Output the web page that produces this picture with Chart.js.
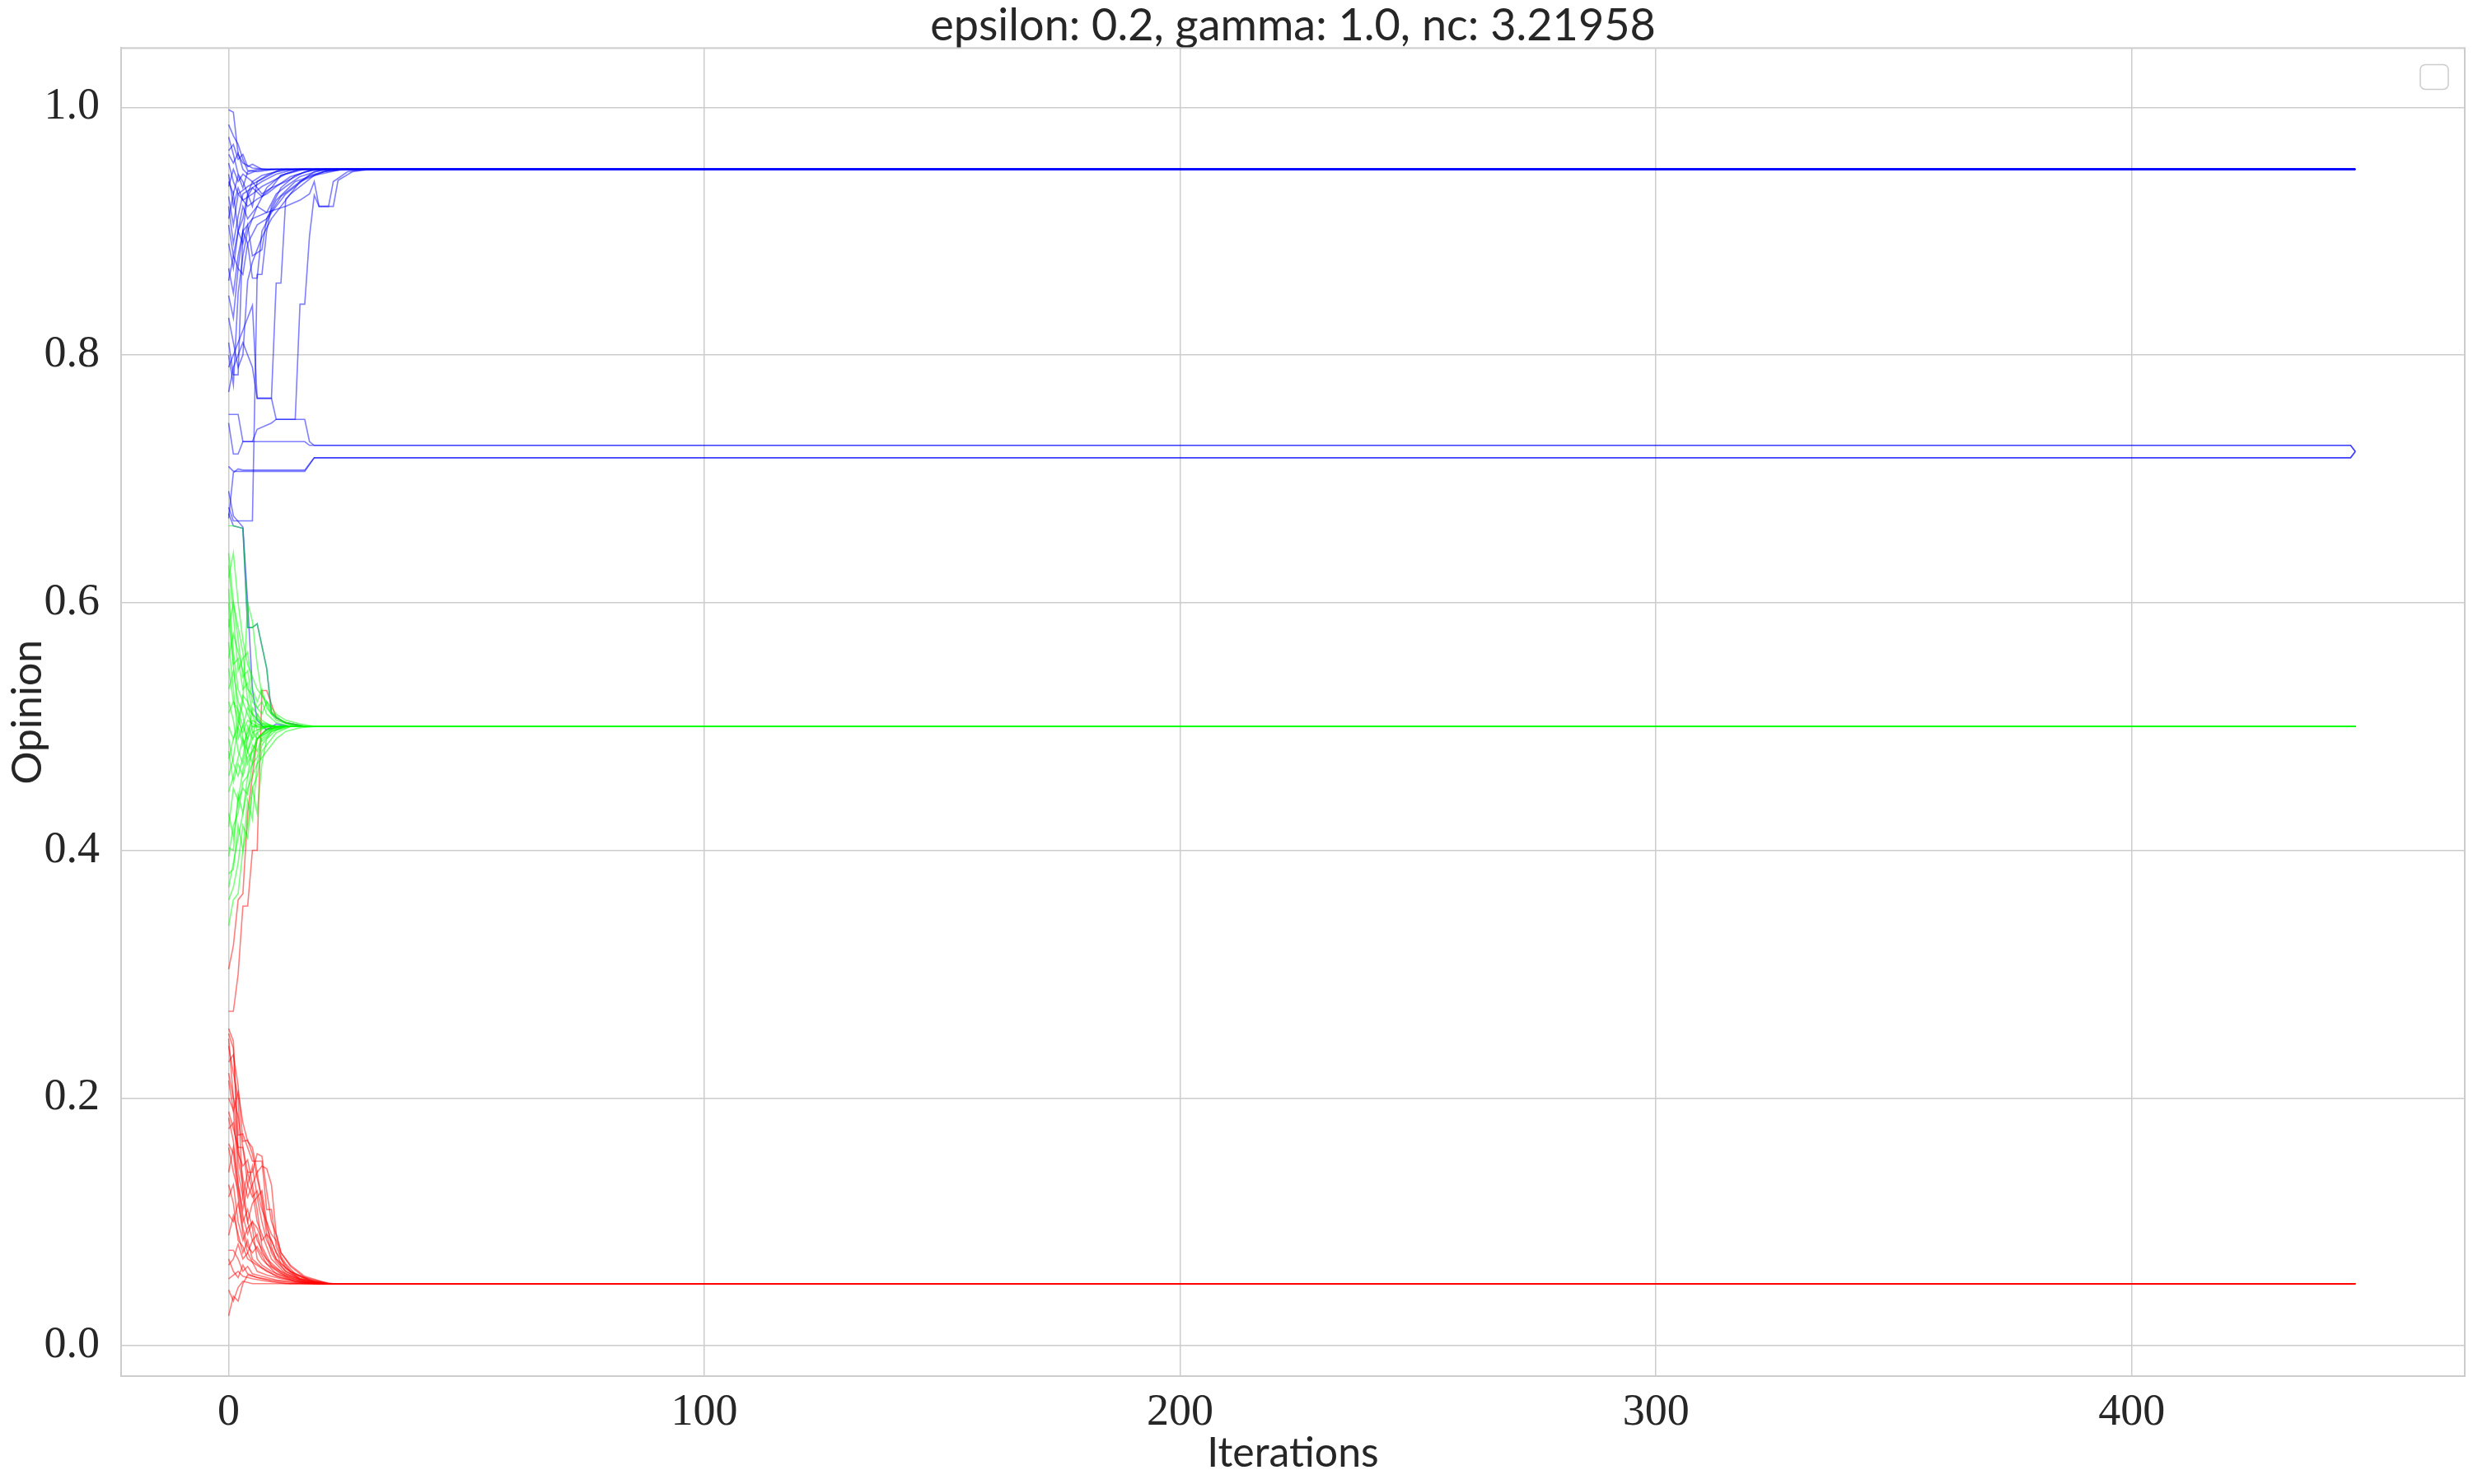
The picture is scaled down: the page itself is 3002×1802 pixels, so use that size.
<!DOCTYPE html>
<html>
<head>
<meta charset="utf-8">
<script src="https://cdn.jsdelivr.net/npm/chart.js@4.4.0/dist/chart.umd.min.js"></script>
<style>
  html, body { margin: 0; padding: 0; background: #ffffff; }
  canvas { display: block; }
</style>
</head>
<body>
<canvas id="opinion-chart" width="3002" height="1802"></canvas>
<script>
// opinion dynamics run: one line per agent, coloured by starting group

const titleText = 'epsilon: 0.2, gamma: 1.0, nc: 3.21958';
const xTicks = [0, 100, 200, 300, 400];
const yTicks = [0.0, 0.2, 0.4, 0.6, 0.8, 1.0];
const lastIter = 447;

// [iteration, opinion] pairs, each run stays flat after its last pair

// blue agents ending at the upper cluster (0.95)
const blueHigh = [
    [[0,0.998],[1,0.996],[2,0.962],[3,0.955],[5,0.951],[8,0.95]],
    [[0,0.986],[1,0.977],[2,0.97],[3,0.958],[4,0.949],[6,0.948],[10,0.95]],
    [[0,0.976],[1,0.962],[2,0.946],[3,0.94],[4,0.93],[5,0.94],[7,0.945],[12,0.95]],
    [[0,0.962],[1,0.955],[2,0.963],[3,0.95],[4,0.946],[6,0.949],[9,0.95]],
    [[0,0.955],[1,0.94],[2,0.93],[4,0.936],[6,0.94],[8,0.944],[10,0.948],[14,0.95]],
    [[0,0.946],[1,0.92],[2,0.935],[3,0.925],[5,0.93],[7,0.936],[9,0.94],[12,0.946],[16,0.95]],
    [[0,0.936],[1,0.95],[2,0.94],[3,0.946],[5,0.94],[7,0.93],[9,0.935],[11,0.945],[15,0.95]],
    [[0,0.928],[1,0.905],[2,0.93],[4,0.92],[6,0.926],[8,0.93],[10,0.936],[13,0.944],[18,0.95]],
    [[0,0.92],[1,0.89],[2,0.912],[3,0.93],[5,0.935],[7,0.928],[9,0.935],[12,0.94],[16,0.948],[20,0.95]],
    [[0,0.91],[1,0.93],[2,0.9],[3,0.92],[4,0.91],[6,0.92],[8,0.915],[10,0.93],[12,0.936],[15,0.944],[20,0.95]],
    [[0,0.89],[1,0.87],[2,0.9],[3,0.89],[4,0.905],[5,0.88],[7,0.885],[8,0.91],[10,0.925],[14,0.94],[20,0.948],[25,0.95]],
    [[0,0.87],[1,0.85],[2,0.88],[3,0.9],[4,0.89],[5,0.862],[6,0.862],[7,0.9],[9,0.915],[12,0.93],[17,0.945],[22,0.95]],
    [[0,0.848],[1,0.83],[2,0.87],[3,0.865],[4,0.89],[6,0.905],[8,0.91],[11,0.928],[15,0.94],[20,0.948],[24,0.95]],
    [[0,0.83],[1,0.81],[2,0.79],[3,0.8],[4,0.86],[5,0.875],[7,0.895],[9,0.91],[13,0.93],[18,0.945],[24,0.95]],
    [[0,0.81],[1,0.784],[2,0.784],[3,0.9],[4,0.928],[5,0.935],[7,0.94],[10,0.946],[14,0.95]],
    [[0,0.8],[1,0.776],[2,0.85],[3,0.88],[4,0.9],[6,0.92],[8,0.935],[11,0.945],[15,0.95]],
    [[0,0.79],[1,0.8],[2,0.81],[3,0.82],[4,0.83],[5,0.84],[6,0.765],[9,0.765],[10,0.858],[11,0.858],[12,0.926],[13,0.93],[15,0.94],[18,0.948],[22,0.95]],
    [[0,0.77],[1,0.79],[2,0.8],[3,0.81],[4,0.8],[5,0.79],[6,0.765],[9,0.765],[10,0.748],[14,0.748],[15,0.841],[16,0.841],[17,0.896],[18,0.929],[19,0.92],[22,0.92],[23,0.941],[26,0.948],[30,0.95]],
    [[0,0.677],[1,0.666],[5,0.666],[6,0.865],[7,0.865],[8,0.9],[9,0.92],[11,0.935],[14,0.945],[18,0.95]],
    [[0,0.905],[1,0.88],[2,0.9],[3,0.91],[4,0.93],[5,0.92],[6,0.94],[8,0.945],[11,0.95]],
    [[0,0.94],[1,0.93],[2,0.945],[3,0.935],[4,0.948],[6,0.95]],
    [[0,0.965],[1,0.97],[2,0.958],[3,0.962],[4,0.952],[5,0.954],[7,0.95]],
    [[0,0.86],[1,0.88],[2,0.87],[3,0.9],[5,0.91],[8,0.915],[12,0.92],[15,0.925],[17,0.93],[18,0.94],[19,0.92],[21,0.92],[22,0.94],[25,0.948],[29,0.95]]
];

// blue agents stuck near 0.72
const blueMid = [
    [[0,0.752],[2,0.752],[3,0.73],[16,0.73],[17,0.727],[446,0.727],[447,0.722]],
    [[0,0.71],[1,0.706],[16,0.706],[18,0.717],[446,0.717],[447,0.722]],
    [[0,0.745],[1,0.72],[2,0.72],[3,0.73],[5,0.73],[6,0.74],[9,0.745],[10,0.748],[16,0.748],[17,0.73],[18,0.727],[446,0.727],[447,0.722]],
    [[0,0.668],[1,0.705],[2,0.708],[3,0.707],[16,0.707],[17,0.712],[18,0.717],[446,0.717],[447,0.722]]
];

// blue agents pulled down to the centre
const blueLow = [
    [[0,0.672],[1,0.662],[3,0.66],[4,0.58],[5,0.58],[6,0.583],[8,0.547],[9,0.511],[10,0.507],[12,0.503],[16,0.5]],
    [[0,0.69],[1,0.67],[3,0.661],[4,0.6],[5,0.53],[6,0.505],[8,0.497],[10,0.502],[13,0.5]]
];

// green agents, all end at 0.5
const greenRuns = [
    [[0,0.662],[1,0.662],[3,0.66],[4,0.58],[5,0.58],[6,0.583],[8,0.547],[9,0.511],[10,0.507],[12,0.503],[16,0.5]],
    [[0,0.611],[1,0.56],[2,0.53],[3,0.52],[4,0.6],[5,0.585],[6,0.55],[7,0.525],[9,0.51],[12,0.503],[16,0.5]],
    [[0,0.587],[1,0.55],[2,0.555],[3,0.53],[4,0.535],[5,0.51],[6,0.497],[8,0.5]],
    [[0,0.568],[1,0.53],[2,0.49],[3,0.5],[4,0.515],[5,0.51],[7,0.503],[10,0.5]],
    [[0,0.547],[1,0.52],[2,0.505],[3,0.525],[4,0.52],[5,0.496],[6,0.49],[8,0.497],[11,0.5]],
    [[0,0.511],[1,0.52],[2,0.513],[3,0.5],[4,0.49],[5,0.5],[7,0.502],[10,0.5]],
    [[0,0.5],[1,0.49],[2,0.505],[3,0.495],[4,0.505],[6,0.5]],
    [[0,0.474],[1,0.49],[2,0.5],[3,0.485],[4,0.495],[5,0.505],[7,0.5]],
    [[0,0.447],[1,0.46],[2,0.475],[3,0.49],[4,0.48],[5,0.495],[7,0.499],[10,0.5]],
    [[0,0.419],[1,0.45],[2,0.44],[3,0.465],[4,0.48],[5,0.47],[6,0.49],[8,0.497],[11,0.5]],
    [[0,0.402],[1,0.4],[2,0.445],[3,0.43],[4,0.46],[5,0.485],[6,0.48],[7,0.492],[9,0.498],[12,0.5]],
    [[0,0.381],[1,0.385],[2,0.42],[3,0.4],[4,0.44],[5,0.425],[6,0.47],[7,0.485],[9,0.496],[12,0.5]],
    [[0,0.339],[1,0.36],[2,0.365],[3,0.4],[4,0.42],[5,0.45],[6,0.43],[7,0.47],[8,0.49],[10,0.497],[13,0.5]],
    [[0,0.63],[1,0.59],[2,0.545],[3,0.555],[4,0.56],[5,0.53],[6,0.52],[7,0.53],[8,0.515],[10,0.505],[14,0.5]],
    [[0,0.49],[1,0.47],[2,0.46],[3,0.475],[4,0.5],[5,0.49],[6,0.495],[8,0.5]],
    [[0,0.46],[1,0.475],[2,0.5],[3,0.52],[4,0.51],[5,0.5],[7,0.499],[9,0.5]],
    [[0,0.43],[1,0.41],[2,0.44],[3,0.45],[4,0.445],[5,0.47],[6,0.495],[7,0.488],[9,0.496],[12,0.5]],
    [[0,0.53],[1,0.545],[2,0.52],[3,0.51],[4,0.48],[5,0.49],[6,0.51],[7,0.505],[9,0.5]],
    [[0,0.58],[1,0.6],[2,0.57],[3,0.54],[4,0.545],[5,0.52],[6,0.515],[7,0.51],[8,0.52],[9,0.512],[11,0.505],[14,0.5]],
    [[0,0.36],[1,0.37],[2,0.39],[3,0.42],[4,0.41],[5,0.45],[6,0.46],[7,0.48],[8,0.485],[10,0.495],[13,0.5]],
    [[0,0.52],[1,0.505],[2,0.48],[3,0.47],[4,0.49],[5,0.515],[6,0.51],[7,0.5]],
    [[0,0.6],[1,0.55],[2,0.51],[3,0.49],[4,0.47],[5,0.48],[6,0.49],[8,0.498],[11,0.5]],
    [[0,0.64],[1,0.6],[2,0.58],[3,0.56],[4,0.52],[5,0.51],[6,0.505],[8,0.5]],
    [[0,0.555],[1,0.575],[2,0.56],[3,0.545],[4,0.53],[5,0.525],[6,0.515],[7,0.52],[8,0.51],[10,0.503],[13,0.5]],
    [[0,0.48],[1,0.455],[2,0.47],[3,0.46],[4,0.475],[5,0.48],[6,0.49],[8,0.495],[10,0.5]],
    [[0,0.395],[1,0.42],[2,0.43],[3,0.455],[4,0.46],[5,0.47],[6,0.475],[7,0.49],[9,0.497],[12,0.5]],
    [[0,0.62],[1,0.64],[2,0.6],[3,0.57],[4,0.55],[5,0.54],[6,0.53],[8,0.52],[10,0.51],[12,0.505],[15,0.502],[18,0.5]],
    [[0,0.37],[1,0.39],[2,0.41],[3,0.43],[4,0.45],[5,0.46],[6,0.47],[8,0.48],[10,0.49],[12,0.496],[15,0.499],[18,0.5]]
];

// red agents, most end at 0.05, two climb to the centre
const redRuns = [
    [[0,0.304],[1,0.323],[2,0.36],[3,0.365],[4,0.43],[5,0.46],[6,0.49],[8,0.498],[11,0.5]],
    [[0,0.27],[1,0.27],[2,0.3],[3,0.355],[4,0.355],[5,0.4],[6,0.4],[7,0.529],[8,0.529],[10,0.507],[12,0.503],[16,0.5]],
    [[0,0.256],[1,0.246],[2,0.15],[3,0.13],[4,0.1],[5,0.085],[7,0.07],[10,0.058],[14,0.052],[20,0.05]],
    [[0,0.252],[1,0.24],[2,0.17],[3,0.171],[4,0.16],[5,0.149],[7,0.149],[8,0.11],[9,0.11],[10,0.08],[12,0.062],[15,0.054],[20,0.05]],
    [[0,0.242],[1,0.22],[2,0.2],[3,0.12],[4,0.14],[5,0.125],[6,0.1],[7,0.09],[9,0.07],[12,0.058],[16,0.052],[21,0.05]],
    [[0,0.229],[1,0.235],[2,0.21],[3,0.165],[4,0.166],[5,0.155],[6,0.135],[7,0.12],[8,0.095],[10,0.075],[13,0.06],[17,0.053],[22,0.05]],
    [[0,0.214],[1,0.19],[2,0.205],[3,0.18],[4,0.165],[5,0.16],[6,0.14],[7,0.145],[8,0.143],[9,0.13],[10,0.09],[11,0.075],[13,0.065],[16,0.056],[21,0.05]],
    [[0,0.2],[1,0.19],[2,0.14],[3,0.12],[4,0.1],[5,0.115],[6,0.12],[7,0.1],[8,0.085],[10,0.07],[13,0.06],[17,0.052],[21,0.05]],
    [[0,0.189],[1,0.175],[2,0.16],[3,0.135],[4,0.12],[5,0.13],[6,0.11],[7,0.08],[9,0.065],[12,0.057],[17,0.051],[20,0.05]],
    [[0,0.184],[1,0.165],[2,0.13],[3,0.105],[4,0.09],[5,0.1],[6,0.085],[8,0.07],[11,0.06],[15,0.053],[20,0.05]],
    [[0,0.175],[1,0.18],[2,0.155],[3,0.145],[4,0.15],[5,0.13],[6,0.14],[7,0.115],[8,0.09],[9,0.085],[11,0.066],[14,0.057],[19,0.05]],
    [[0,0.163],[1,0.155],[2,0.12],[3,0.09],[4,0.075],[5,0.085],[6,0.09],[7,0.075],[9,0.064],[12,0.056],[16,0.051],[19,0.05]],
    [[0,0.16],[1,0.14],[2,0.125],[3,0.1],[4,0.11],[5,0.095],[6,0.07],[7,0.065],[9,0.06],[13,0.054],[18,0.05]],
    [[0,0.106],[1,0.1],[2,0.115],[3,0.095],[4,0.08],[5,0.075],[6,0.08],[8,0.066],[11,0.058],[15,0.052],[19,0.05]],
    [[0,0.089],[1,0.105],[2,0.09],[3,0.075],[4,0.085],[5,0.07],[7,0.063],[10,0.056],[14,0.052],[18,0.05]],
    [[0,0.077],[1,0.077],[2,0.07],[3,0.06],[4,0.064],[5,0.058],[7,0.056],[10,0.053],[14,0.051],[17,0.05]],
    [[0,0.07],[1,0.06],[2,0.055],[3,0.065],[4,0.058],[6,0.055],[9,0.053],[13,0.051],[16,0.05]],
    [[0,0.054],[1,0.057],[2,0.06],[3,0.056],[5,0.054],[8,0.052],[12,0.05]],
    [[0,0.045],[1,0.036],[2,0.047],[3,0.052],[5,0.05]],
    [[0,0.024],[1,0.04],[2,0.036],[3,0.05],[4,0.057],[6,0.055],[9,0.052],[13,0.05]],
    [[0,0.14],[1,0.16],[2,0.13],[3,0.11],[4,0.13],[5,0.145],[6,0.12],[7,0.125],[8,0.1],[9,0.08],[10,0.07],[12,0.06],[15,0.054],[19,0.05]],
    [[0,0.22],[1,0.2],[2,0.185],[3,0.16],[4,0.14],[5,0.14],[6,0.155],[7,0.153],[8,0.125],[9,0.1],[10,0.09],[11,0.075],[13,0.064],[16,0.055],[21,0.05]],
    [[0,0.12],[1,0.13],[2,0.1],[3,0.085],[4,0.095],[5,0.1],[6,0.095],[7,0.085],[8,0.09],[9,0.075],[10,0.068],[12,0.06],[15,0.054],[20,0.05]],
    [[0,0.248],[1,0.2],[2,0.16],[3,0.16],[4,0.13],[5,0.12],[6,0.125],[7,0.11],[8,0.1],[9,0.09],[10,0.085],[11,0.072],[12,0.066],[14,0.058],[18,0.052],[21,0.05]],
    [[0,0.065],[1,0.07],[2,0.082],[3,0.07],[4,0.075],[6,0.06],[8,0.057],[11,0.054],[15,0.051],[18,0.05]],
    [[0,0.13],[1,0.115],[2,0.085],[3,0.08],[4,0.07],[6,0.065],[8,0.06],[11,0.055],[15,0.051],[19,0.05]]
];

const BLUE = 'rgba(0, 0, 255, 0.5)';
const GREEN = 'rgba(0, 255, 0, 0.5)';
const RED = 'rgba(255, 0, 0, 0.5)';
const INK = '#262626';
const GRID = '#cccccc';
const SANS = 'Lato, "Open Sans", sans-serif';
const SERIF = '"Liberation Serif", "DejaVu Serif", serif';

function toPoints(run) {
    const pts = run.map(([x, y]) => ({ x: x, y: y }));
    const last = run[run.length - 1];
    if (last[0] < lastIter) pts.push({ x: lastIter, y: last[1] });
    return pts;
}

function makeSets(runs, color) {
    return runs.map(run => ({
        data: toPoints(run),
        borderColor: color,
        borderWidth: 1.6,
        pointRadius: 0,
        tension: 0,
        fill: false
    }));
}

// full box round the plot plus the empty legend frame in the corner
const frameAndLegend = {
    id: 'frameAndLegend',
    beforeDatasetsDraw(chart) {
        const { ctx, chartArea: a } = chart;
        ctx.save();
        ctx.strokeStyle = GRID;
        ctx.lineWidth = 2;
        ctx.strokeRect(a.left, a.top, a.right - a.left, a.bottom - a.top);
        ctx.restore();
    },
    afterDraw(chart) {
        const { ctx, chartArea: a } = chart;
        ctx.save();
        ctx.strokeStyle = GRID;
        ctx.lineWidth = 1.5;
        ctx.fillStyle = 'rgba(255,255,255,0.8)';
        ctx.beginPath();
        ctx.roundRect(a.right - 54, a.top + 20, 34, 30, 6);
        ctx.fill();
        ctx.stroke();
        ctx.restore();
    }
};

// Chart.js paints the first dataset on top, so green goes first
const ctx = document.getElementById('opinion-chart').getContext('2d');
const chart = new Chart(ctx, {
    type: 'line',
    data: {
        datasets: [
            ...makeSets(greenRuns, GREEN),
            ...makeSets(blueLow, BLUE),
            ...makeSets(blueMid, BLUE),
            ...makeSets(blueHigh, BLUE),
            ...makeSets(redRuns, RED)
        ]
    },
    options: {
        responsive: false,
        animation: false,
        devicePixelRatio: 1,
        parsing: false,
        normalized: true,
        layout: { padding: { left: 0, right: 10, top: 0, bottom: 0 } },
        plugins: {
            legend: { display: false },
            tooltip: { enabled: false },
            title: {
                display: true,
                fullSize: false,
                text: titleText,
                color: INK,
                font: { family: SANS, size: 54, weight: 'normal', lineHeight: 1.0 },
                padding: { top: 3, bottom: 0 }
            }
        },
        scales: {
            x: {
                type: 'linear',
                min: -22.6,
                max: 470,
                afterBuildTicks: axis => { axis.ticks = xTicks.map(v => ({ value: v })); },
                afterFit: axis => { axis.height = 131; },
                grid: { color: GRID, lineWidth: 1.5, drawTicks: false },
                border: { display: true, color: GRID, width: 2 },
                ticks: {
                    padding: 12,
                    color: INK,
                    maxRotation: 0,
                    font: { family: SERIF, size: 54 },
                    callback: v => String(v)
                },
                title: {
                    display: true,
                    text: 'Iterations',
                    color: INK,
                    font: { family: SANS, size: 50, lineHeight: 1.2 },
                    padding: { top: 0, bottom: 7 }
                }
            },
            y: {
                type: 'linear',
                min: -0.0246,
                max: 1.0478,
                afterBuildTicks: axis => { axis.ticks = yTicks.map(v => ({ value: v })); },
                afterFit: axis => { axis.width = 147; },
                grid: { color: GRID, lineWidth: 1.5, drawTicks: false },
                border: { display: true, color: GRID, width: 2 },
                ticks: {
                    padding: 26,
                    color: INK,
                    font: { family: SERIF, size: 54 },
                    callback: v => v.toFixed(1)
                },
                title: {
                    display: true,
                    text: 'Opinion',
                    color: INK,
                    font: { family: SANS, size: 50, lineHeight: 1.2 },
                    padding: { top: 4, bottom: 0 }
                }
            }
        }
    },
    plugins: [frameAndLegend]
});
</script>
</body>
</html>
